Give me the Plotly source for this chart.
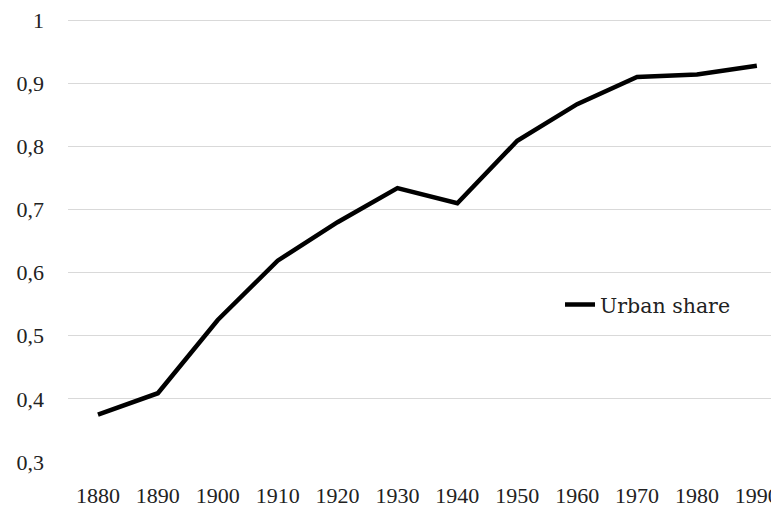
import plotly.graph_objects as go

years = ["1880", "1890", "1900", "1910", "1920", "1930", "1940", "1950", "1960", "1970", "1980", "1990"]
urban_share = [0.375, 0.409, 0.525, 0.619, 0.680, 0.734, 0.710, 0.809, 0.867, 0.910, 0.914, 0.928]
series_name = "Urban share"
y_tick_vals = [0.3, 0.4, 0.5, 0.6, 0.7, 0.8, 0.9, 1.0]
y_tick_text = ["0,3", "0,4", "0,5", "0,6", "0,7", "0,8", "0,9", "1"]

TICK_FONT = "Liberation Serif, Times New Roman, serif"
LEGEND_FONT = "DejaVu Serif, serif"

fig = go.Figure()
fig.add_trace(go.Scatter(
    x=list(range(len(years))), y=urban_share, mode="lines", name=series_name,
    line=dict(color="black", width=4.5),
    showlegend=True,
))

fig.update_layout(
    width=771, height=499,
    margin=dict(l=60, r=0, t=11, b=45),
    paper_bgcolor="white", plot_bgcolor="white",
    font=dict(family=TICK_FONT, size=22, color="#222222"),
    showlegend=True,
    legend=dict(x=0.692, y=0.355, xanchor="left", yanchor="middle",
                bgcolor="rgba(0,0,0,0)", font=dict(family=LEGEND_FONT, size=20.5, color="#222222")),
    xaxis=dict(
        range=[-0.5, 11.37], tickmode="array",
        tickvals=list(range(len(years))), ticktext=years,
        showgrid=False, zeroline=False, showline=False, ticks="",
        automargin=False, ticklabelstandoff=18, ticklabeloverflow="allow",
        tickfont=dict(family=TICK_FONT, size=22, color="#222222"),
    ),
    yaxis=dict(
        range=[0.3, 1.002], tickmode="array", tickvals=y_tick_vals, ticktext=y_tick_text,
        showgrid=True, gridcolor="#d9d9d9", gridwidth=1.3,
        zeroline=False, showline=False, ticks="",
        automargin=False, ticklabelstandoff=23, ticklabeloverflow="allow",
        tickfont=dict(family=TICK_FONT, size=22, color="#222222"),
    ),
)

fig.write_html("out.html")
